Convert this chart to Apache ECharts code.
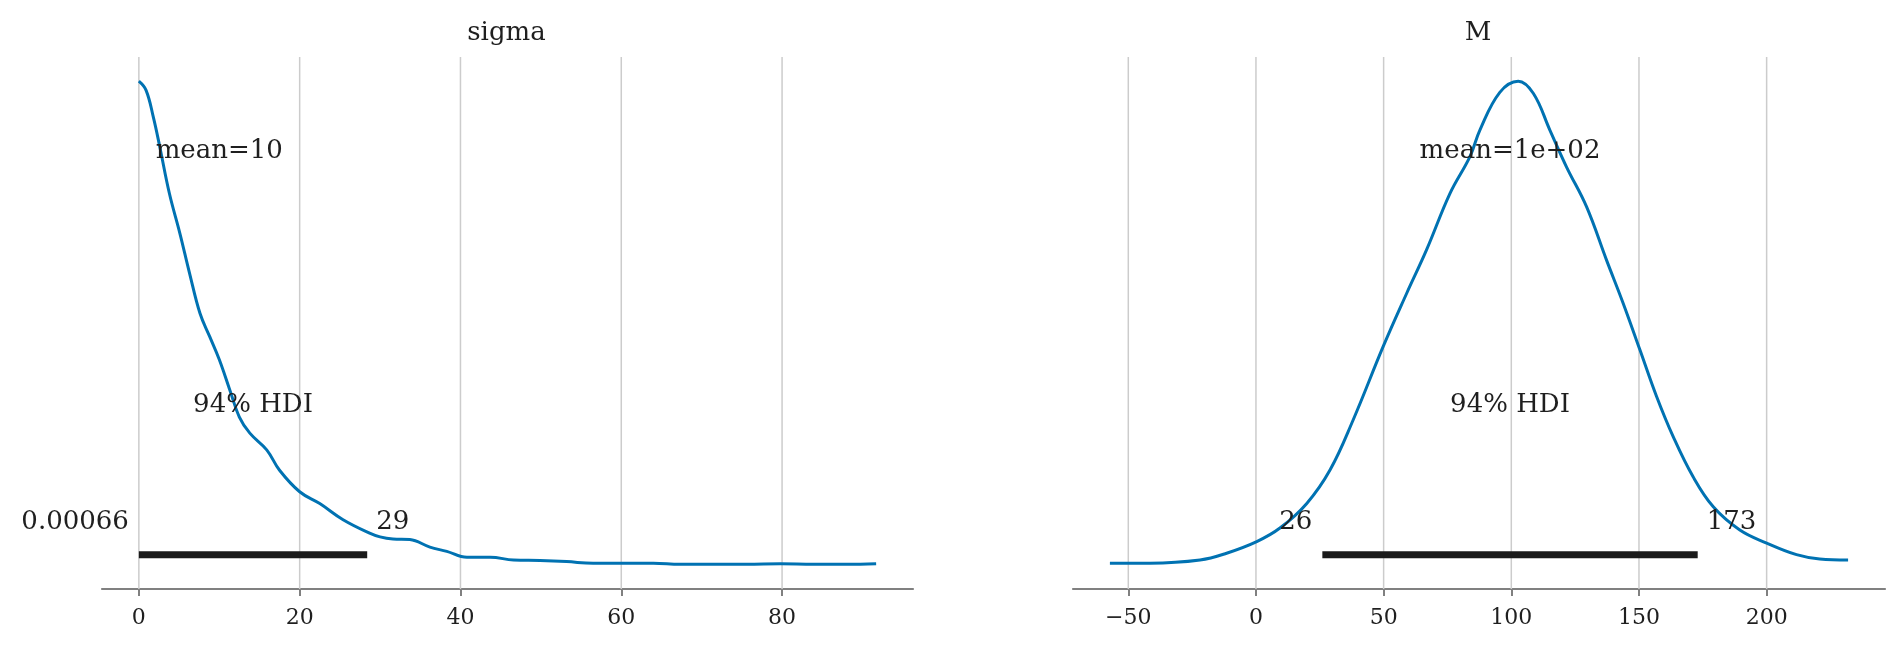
<!DOCTYPE html>
<html><head><meta charset="utf-8">
<script src="https://cdn.jsdelivr.net/npm/echarts@6/dist/echarts.min.js"></script>
<style>html,body{margin:0;padding:0;background:#fff}#c{width:1904px;height:650px}</style>
</head><body><div id="c"></div>
<script>
// ---- data ----
const titles = ['sigma', 'M'];
const sigmaX = [0, 0.9, 1.8, 2.6, 3.8, 5.1, 6.3, 7.6, 8.8, 10.0, 11.3, 12.5, 13.8, 15.9, 17.5, 20.0, 22.5, 25.4, 28.7, 30.0, 31.6, 33.7, 36.2, 38.3, 40.8, 43.7, 46.6, 49.9, 53.2, 56.5, 59.9, 64.0, 67.3, 71.5, 75.6, 79.8, 83.9, 88.1, 91.7];
const sigmaDensity = [0.0900, 0.0883, 0.0833, 0.0778, 0.0691, 0.0617, 0.0543, 0.0468, 0.0425, 0.0382, 0.0326, 0.0275, 0.0245, 0.0214, 0.0176, 0.0136, 0.0114, 0.0084, 0.0059, 0.0052, 0.0048, 0.0047, 0.0033, 0.0025, 0.0014, 0.0014, 0.0009, 0.0008, 0.0006, 0.0003, 0.0003, 0.0003, 0.0001, 0.0001, 0.0001, 0.0002, 0.0001, 0.0001, 0.0002];
const mX = [-57.2, -41.5, -21.9, -11.5, 0.3, 9.4, 19.9, 29.0, 38.1, 49.8, 59.0, 66.8, 76.0, 83.8, 87.7, 95.5, 102.7, 108.6, 115.1, 121.6, 129.5, 137.3, 143.8, 150.4, 156.9, 163.4, 171.2, 179.1, 189.5, 200.0, 211.7, 220.8, 231.9];
const mDensity = [0.000035, 0.000035, 0.0001, 0.00024, 0.00048, 0.00076, 0.00127, 0.00196, 0.0030, 0.00451, 0.00561, 0.00651, 0.00768, 0.00844, 0.00899, 0.00977, 0.0100, 0.00975, 0.00899, 0.00823, 0.0074, 0.0063, 0.00541, 0.00444, 0.00348, 0.00265, 0.00182, 0.0012, 0.00072, 0.00045, 0.00021, 0.00012, 0.0001];
const sigmaTicks = [0, 20, 40, 60, 80];
const mTicks = [-50, 0, 50, 100, 150, 200];
const sigmaHdi = [0.00066, 28.4];
const mHdi = [26, 173];
const sigmaHdiLabels = ['0.00066', '29'];
const mHdiLabels = ['26', '173'];
const sigmaMean = 10.0;
const mMean = 99.5;
const meanLabels = ['mean=10', 'mean=1e+02'];
const hdiLabel = '94% HDI';

// ---- chart ----
const FONT = 'DejaVu Serif';
const TXT = '#1f1f1f';
const panels = [
  {x: sigmaX, y: sigmaDensity, ticks: sigmaTicks, hdi: sigmaHdi, hdiLab: sigmaHdiLabels, mean: sigmaMean, meanLab: meanLabels[0], grid: {left: 102, top: 57, width: 811, height: 532}},
  {x: mX, y: mDensity, ticks: mTicks, hdi: mHdi, hdiLab: mHdiLabels, mean: mMean, meanLab: meanLabels[1], grid: {left: 1073, top: 57, width: 812, height: 532}}
];

const option = {
  animation: false,
  backgroundColor: '#ffffff',
  title: [], grid: [], xAxis: [], yAxis: [], series: []
};

panels.forEach((p, i) => {
  const xmin = Math.min(...p.x), xmax = Math.max(...p.x);
  const xr = xmax - xmin;
  const peak = Math.max(...p.y);
  const ph = 1.05 * peak;
  option.grid.push(p.grid);
  option.title.push({
    text: titles[i], left: p.grid.left + p.grid.width / 2 - 6, top: 15, textAlign: 'center',
    textStyle: {fontFamily: FONT, fontSize: 26, fontWeight: 'normal', color: TXT}
  });
  option.xAxis.push({
    gridIndex: i, type: 'value', min: xmin - 0.05 * xr, max: xmax + 0.05 * xr,
    axisLine: {show: true, onZero: false, lineStyle: {color: '#808080', width: 2.2}},
    axisTick: {show: true, customValues: p.ticks, length: 7, lineStyle: {color: '#808080', width: 2}},
    axisLabel: {customValues: p.ticks, fontFamily: FONT, fontSize: 22, color: TXT, margin: 18,
      formatter: v => String(v).replace('-', '\u2212')},
    splitLine: {show: false}
  });
  option.yAxis.push({gridIndex: i, type: 'value', min: -0.05 * peak, max: ph, show: false});
  // vertical grid lines
  option.series.push({
    type: 'custom', xAxisIndex: i, yAxisIndex: i, z: 1, silent: true,
    data: p.ticks.map(t => [t]),
    renderItem: (params, api) => {
      const a = api.coord([api.value(0), -0.05 * peak]);
      const b = api.coord([api.value(0), ph]);
      return {type: 'line', shape: {x1: a[0], y1: a[1], x2: b[0], y2: b[1]}, style: {stroke: '#cccccc', lineWidth: 1.5}};
    }
  });
  // KDE curve
  option.series.push({
    type: 'line', xAxisIndex: i, yAxisIndex: i, z: 3, showSymbol: false, symbol: 'none',
    smooth: 0.4,
    lineStyle: {color: '#0072B2', width: 3},
    data: p.x.map((v, k) => [v, p.y[k]])
  });
  // HDI bar
  option.series.push({
    type: 'line', xAxisIndex: i, yAxisIndex: i, z: 4, showSymbol: false, symbol: 'none',
    lineStyle: {color: '#1a1a1a', width: 7, cap: 'butt'},
    data: [[p.hdi[0], 0.02 * ph], [p.hdi[1], 0.02 * ph]]
  });
  // text annotations
  const lab = (fmt, align, dx) => ({show: true, position: 'inside', formatter: fmt, align: align, verticalAlign: 'bottom',
    offset: [dx, 6], fontFamily: FONT, fontSize: 26, color: TXT, opacity: 1});
  option.series.push({
    type: 'scatter', xAxisIndex: i, yAxisIndex: i, z: 5, symbolSize: 0, silent: true,
    itemStyle: {opacity: 1},
    data: [
      {value: [p.hdi[0], 0.07 * ph], label: lab(p.hdiLab[0], 'right', -10)},
      {value: [p.hdi[1], 0.07 * ph], label: lab(p.hdiLab[1], 'left', 9)},
      {value: [(p.hdi[0] + p.hdi[1]) / 2, 0.3 * ph], label: lab(hdiLabel, 'center', 0)},
      {value: [p.mean, 0.8 * ph], label: lab(p.meanLab, 'center', 0)}
    ]
  });
});

const chart = echarts.init(document.getElementById('c'), null, {renderer: 'canvas'});
chart.setOption(option);
</script></body></html>
